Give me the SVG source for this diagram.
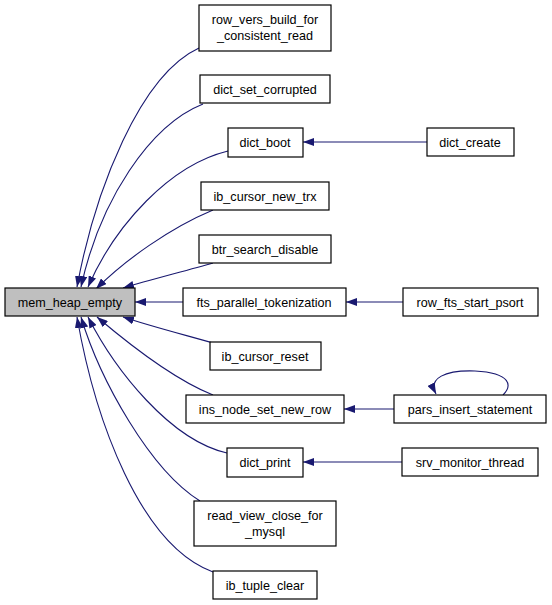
<svg xmlns="http://www.w3.org/2000/svg" width="552" height="605" viewBox="0 0 552 605">
<style>
.n rect{fill:#fff;stroke:#000;stroke-width:1.2}
.n text{font-family:"Liberation Sans",Arial,sans-serif;font-size:12.6px;text-anchor:middle;fill:#000}
.e path{fill:none;stroke:#191970;stroke-width:1.1}
</style>
<defs>
<marker id="a" viewBox="0 0 11 8" refX="11" refY="4" markerWidth="11" markerHeight="8" markerUnits="userSpaceOnUse" orient="auto">
<path d="M0,0 L11,4 L0,8 z" fill="#191970" stroke="none"/>
</marker>
</defs>
<rect width="552" height="605" fill="#fff"/>
<g class="e">
<path d="M199,48 C140,75 95,190 77,287" marker-end="url(#a)"/>
<path d="M203,104 C150,125 100,200 81,287" marker-end="url(#a)"/>
<path d="M228,151 C170,165 115,225 88,287" marker-end="url(#a)"/>
<path d="M213,210 C170,228 125,260 96,289" marker-end="url(#a)"/>
<path d="M213,263 C185,271 150,280 123,288" marker-end="url(#a)"/>
<path d="M183,302 L135,302" marker-end="url(#a)"/>
<path d="M213,343 C185,335 150,326 123,317" marker-end="url(#a)"/>
<path d="M213,395 C175,380 130,345 97,317" marker-end="url(#a)"/>
<path d="M227,453 C170,440 115,370 88,317" marker-end="url(#a)"/>
<path d="M200,501 C150,470 100,380 81,317" marker-end="url(#a)"/>
<path d="M213,572 C140,545 95,420 77,317" marker-end="url(#a)"/>
<path d="M427,142 L303,142" marker-end="url(#a)"/>
<path d="M403,302 L346,302" marker-end="url(#a)"/>
<path d="M394,409 L344,409" marker-end="url(#a)"/>
<path d="M402,462 L303,462" marker-end="url(#a)"/>
<path d="M503,395 C512,386 512,373 475,371 C445,370 428,378 436,394" marker-end="url(#a)"/>
</g>
<g id="mem_heap_empty" class="n"><rect x="5" y="288" width="130" height="28" style="fill:#bfbfbf"/><text x="70" y="307">mem_heap_empty</text></g>
<g id="row_vers_build_for_consistent_read" class="n"><rect x="199" y="5" width="132" height="46"/><text x="265" y="24">row_vers_build_for</text><text x="265" y="40">_consistent_read</text></g>
<g id="dict_set_corrupted" class="n"><rect x="200" y="75" width="130" height="28"/><text x="265" y="94">dict_set_corrupted</text></g>
<g id="dict_boot" class="n"><rect x="228" y="128" width="75" height="29"/><text x="265" y="147">dict_boot</text></g>
<g id="dict_create" class="n"><rect x="427" y="128" width="87" height="28"/><text x="470" y="147">dict_create</text></g>
<g id="ib_cursor_new_trx" class="n"><rect x="201" y="182" width="128" height="28"/><text x="265" y="201">ib_cursor_new_trx</text></g>
<g id="btr_search_disable" class="n"><rect x="199" y="235" width="132" height="28"/><text x="265" y="254">btr_search_disable</text></g>
<g id="fts_parallel_tokenization" class="n"><rect x="183" y="288" width="163" height="28"/><text x="264" y="307">fts_parallel_tokenization</text></g>
<g id="row_fts_start_psort" class="n"><rect x="403" y="288" width="135" height="28"/><text x="470" y="307">row_fts_start_psort</text></g>
<g id="ib_cursor_reset" class="n"><rect x="210" y="342" width="111" height="28"/><text x="265" y="361">ib_cursor_reset</text></g>
<g id="ins_node_set_new_row" class="n"><rect x="186" y="395" width="158" height="28"/><text x="265" y="414">ins_node_set_new_row</text></g>
<g id="pars_insert_statement" class="n"><rect x="394" y="395" width="152" height="28"/><text x="470" y="414">pars_insert_statement</text></g>
<g id="dict_print" class="n"><rect x="227" y="448" width="76" height="29"/><text x="265" y="467">dict_print</text></g>
<g id="srv_monitor_thread" class="n"><rect x="402" y="448" width="136" height="28"/><text x="470" y="467">srv_monitor_thread</text></g>
<g id="read_view_close_for_mysql" class="n"><rect x="194" y="501" width="142" height="45"/><text x="265" y="520">read_view_close_for</text><text x="265" y="536">_mysql</text></g>
<g id="ib_tuple_clear" class="n"><rect x="213" y="571" width="104" height="28"/><text x="265" y="590">ib_tuple_clear</text></g>
</svg>
